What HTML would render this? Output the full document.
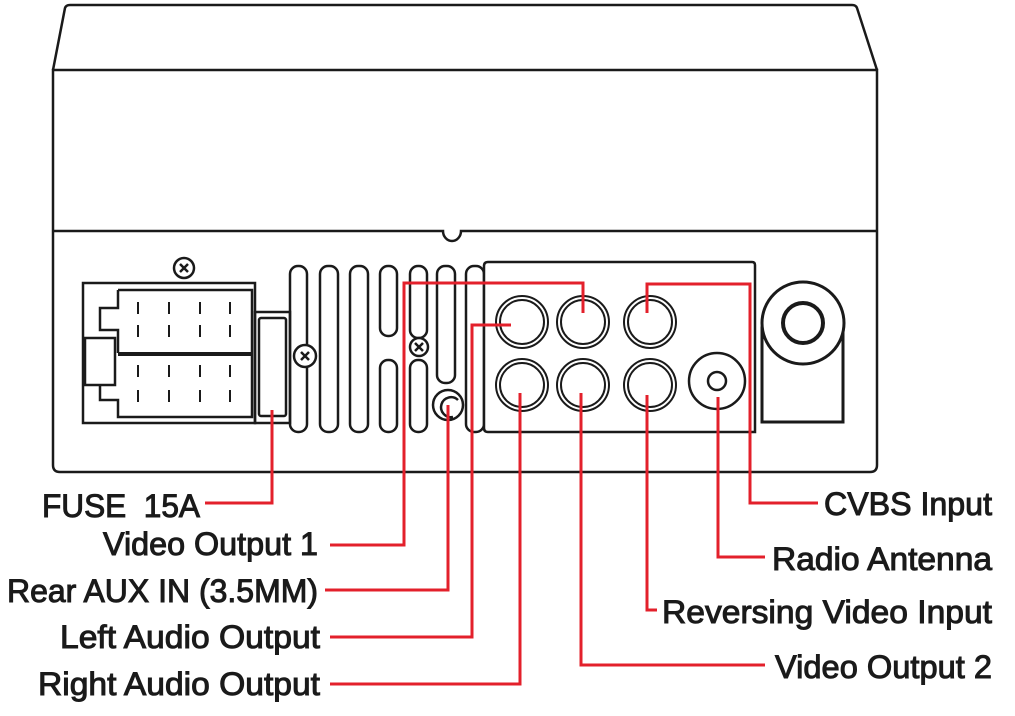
<!DOCTYPE html>
<html><head><meta charset="utf-8"><style>
html,body{margin:0;padding:0;background:#fff;width:1015px;height:716px;overflow:hidden}
svg{display:block}
text{font-family:"Liberation Sans",sans-serif;font-size:32px;fill:#1a1a1a;stroke:#1a1a1a;stroke-width:1}
</style></head><body>
<svg width="1015" height="716" viewBox="0 0 1015 716" xmlns="http://www.w3.org/2000/svg">
<g fill="none" stroke="#1a1a1a" stroke-width="2.5">
<path d="M53 70 L65 8 Q66 5 70 5 L852 5 Q856 5 857 8 L877 70"/>
<path d="M53 70 L877 70 L877 465 Q877 472 870 472 L60 472 Q53 472 53 465 Z"/>
<path d="M53 231 L443 231 A9 10 0 0 0 461 231 L877 231"/>
<rect x="83" y="283" width="172" height="140"/>
<path d="M118 290 L252 290 L252 417 L118 417 L118 400 L100 400 L100 385"/>
<path d="M118 290 L118 308 L100 308 L100 330 L118 330 L118 353"/>
<line x1="118" y1="354" x2="252" y2="354" stroke-width="4"/>
<rect x="85" y="338" width="30" height="47"/>
<g stroke-width="2">
<path d="M138 302v12M169 302v12M200 302v12M230 302v12M138 325v12M169 325v12M200 325v12M230 325v12M138 365v12M169 365v12M200 365v12M230 365v12M138 390v12M169 390v12M200 390v12M230 390v12"/>
</g>
<circle cx="184" cy="268" r="10"/>
<path d="M180 264l8 8M188 264l-8 8"/>
<rect x="255" y="312" width="35" height="111"/>
<rect x="259" y="318" width="27" height="98" rx="2"/>
<rect x="290" y="266" width="17" height="166" rx="8"/>
<rect x="320" y="266" width="18" height="166" rx="8"/>
<rect x="350" y="266" width="18" height="166" rx="8"/>
<rect x="380" y="266" width="17" height="70" rx="8"/>
<rect x="380" y="360" width="17" height="72" rx="8"/>
<rect x="410" y="266" width="17" height="72" rx="8"/>
<rect x="410" y="360" width="17" height="72" rx="8"/>
<rect x="437" y="266" width="18" height="117" rx="8"/>
<rect x="466" y="266" width="18" height="166" rx="8"/>
<circle cx="305" cy="356" r="11" fill="#fff"/>
<path d="M301 352l8 8M309 352l-8 8"/>
<circle cx="419" cy="347" r="9" fill="#fff"/>
<path d="M415 343l8 8M423 343l-8 8"/>
<circle cx="448" cy="405" r="15" fill="#fff"/>
<path d="M453 417 A10 10 0 1 1 458 400"/>
<path d="M488 262 L752 262 Q755 262 755 265 L755 432 L488 432 Q484 432 484 428 L484 266 Q484 262 488 262 Z" fill="#fff"/>
<g stroke-width="2">
<circle cx="522" cy="322" r="26"/><circle cx="522" cy="322" r="22"/>
<circle cx="583" cy="322" r="26"/><circle cx="583" cy="322" r="22"/>
<circle cx="650" cy="322" r="26"/><circle cx="650" cy="322" r="22"/>
<circle cx="522" cy="385" r="26"/><circle cx="522" cy="385" r="22"/>
<circle cx="583" cy="385" r="26"/><circle cx="583" cy="385" r="22"/>
<circle cx="650" cy="385" r="26"/><circle cx="650" cy="385" r="22"/>
</g>
<circle cx="717" cy="381" r="28"/>
<circle cx="717" cy="381" r="9"/>
<rect x="762" y="328" width="81" height="94" stroke-width="3"/>
<circle cx="803" cy="323" r="41" fill="#fff" stroke-width="3"/>
<circle cx="803" cy="323" r="20" stroke-width="4"/>
</g>
<g fill="none" stroke="#e3202b" stroke-width="3">
<path d="M272 410 V503 H205"/>
<path d="M330 545 H404 V283 H583 V313"/>
<path d="M325 590 H448 V405"/>
<path d="M330 637 H472 V325 H511"/>
<path d="M330 684 H520 V393"/>
<path d="M818 503 H750 V284 H647 V313"/>
<path d="M765 557 H718 V397"/>
<path d="M657 610 H647 V395"/>
<path d="M765 665 H581 V393"/>
</g>
<text x="42" y="517" textLength="158" lengthAdjust="spacingAndGlyphs">FUSE&#160;&#160;15A</text>
<text x="103" y="555" textLength="215" lengthAdjust="spacingAndGlyphs">Video Output 1</text>
<text x="7" y="602" textLength="311" lengthAdjust="spacingAndGlyphs">Rear AUX IN (3.5MM)</text>
<text x="60" y="648" textLength="260" lengthAdjust="spacingAndGlyphs">Left Audio Output</text>
<text x="38" y="695" textLength="282" lengthAdjust="spacingAndGlyphs">Right Audio Output</text>
<text x="824" y="515" textLength="168" lengthAdjust="spacingAndGlyphs">CVBS Input</text>
<text x="772" y="570" textLength="220" lengthAdjust="spacingAndGlyphs">Radio Antenna</text>
<text x="662" y="623" textLength="330" lengthAdjust="spacingAndGlyphs">Reversing Video Input</text>
<text x="775" y="678" textLength="217" lengthAdjust="spacingAndGlyphs">Video Output 2</text>
</svg>
</body></html>
